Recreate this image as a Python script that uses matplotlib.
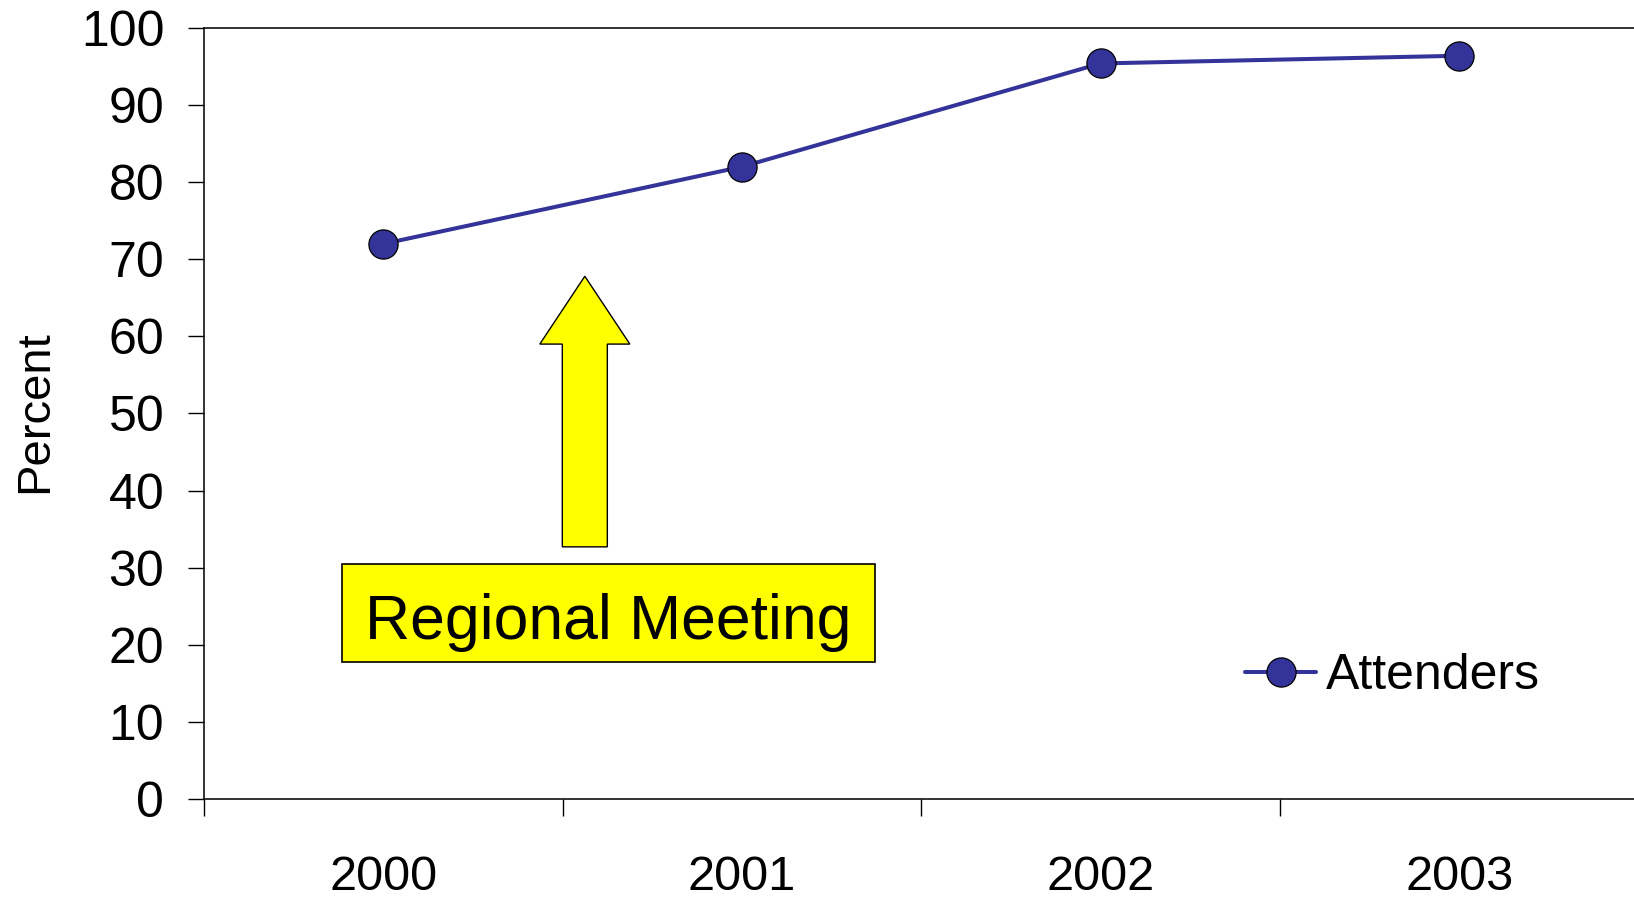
import matplotlib
matplotlib.use("Agg")
import matplotlib.pyplot as plt
from matplotlib.patches import FancyArrow, Rectangle

years = ["2000", "2001", "2002", "2003"]
attenders = [72.0, 82.0, 95.4, 96.4]
y_ticks = list(range(0, 101, 10))
series_name = "Attenders"
note_text = "Regional Meeting"

line_color = "#333399"
note_color = "#ffff00"

plt.rcParams["font.family"] = ["Liberation Sans", "DejaVu Sans"]

fig = plt.figure(figsize=(16.34, 8.97), dpi=100)
# plot area runs a little past the right edge of the figure
ax = fig.add_axes([0.1248, 0.1093, 0.878, 0.8595])

x = list(range(len(years)))
ax.plot(x, attenders, color=line_color, linewidth=2.9, marker="o",
        markersize=21, markerfacecolor=line_color, markeredgecolor="black",
        markeredgewidth=0.9, label=series_name, solid_capstyle="round")

ax.set_xlim(-0.5, len(years) - 0.5)
ax.set_ylim(0, 100)

# category boundaries get the tick marks, labels sit between them
ax.set_xticks([i - 0.5 for i in range(len(years) + 1)])
ax.set_xticklabels([])
ax.set_xticks(x, minor=True)
ax.set_xticklabels(years, minor=True)
ax.tick_params(axis="x", which="major", direction="out", length=12, width=1.0)
ax.tick_params(axis="x", which="minor", length=0, pad=40, labelsize=35)

ax.set_yticks(y_ticks)
ax.tick_params(axis="y", direction="out", length=11.5, width=1.0, pad=17,
               labelsize=36)

for side in ["left", "bottom", "top", "right"]:
    ax.spines[side].set_linewidth(1.2)
    ax.spines[side].set_color("#111111")

ax.set_ylabel("Percent", fontsize=34)
ax.yaxis.set_label_coords(-0.102, 0.503)

# callout: arrow pointing up at the line, with a labelled box below it
arrow = FancyArrow(0.562, 32.7, 0, 67.8 - 32.7, width=0.1255,
                   head_width=0.251, head_length=67.8 - 59.0,
                   length_includes_head=True, facecolor=note_color,
                   edgecolor="black", linewidth=1.0, zorder=3)
ax.add_patch(arrow)

box = Rectangle((-0.115, 17.8), 1.371 + 0.115, 30.5 - 17.8,
                facecolor=note_color, edgecolor="black", linewidth=1.2,
                zorder=3)
ax.add_patch(box)
ax.text(0.628, 20.75, note_text, fontsize=45, ha="center", va="baseline",
        zorder=4)

ax.legend(loc="center left", bbox_to_anchor=(0.762, 0.246),
          bbox_transform=fig.transFigure, frameon=False, fontsize=36,
          borderpad=0, borderaxespad=0, handlelength=1.42,
          handletextpad=0.2, numpoints=1)

fig.savefig("out.png", dpi=100)
